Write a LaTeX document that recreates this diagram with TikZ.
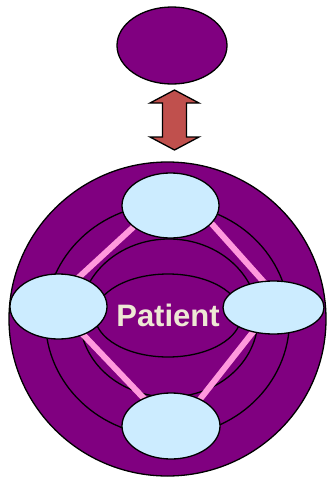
\documentclass[tikz,border=0pt]{standalone}
\usepackage{xcolor}
\usepackage{fontspec}
\setsansfont{Liberation Sans}
\usepackage{tikz}
\usetikzlibrary{shapes.geometric, positioning, arrows.meta}

\definecolor{discpurple}{HTML}{800080}
\definecolor{bubbleblue}{HTML}{CCECFF}
\definecolor{linkpink}{HTML}{FF99DD}
\definecolor{arrowred}{HTML}{C0504D}
\definecolor{textcream}{HTML}{EEE8D5}

\begin{document}
\begin{tikzpicture}[x=1pt, y=-1pt, >=Latex,
  ring/.style={draw, ellipse, line width=1.3pt, inner sep=0pt},
  disc/.style={ring, fill=discpurple},
  bubble/.style={ring, fill=bubbleblue, minimum width=97pt, minimum height=65pt},
  link/.style={draw=linkpink, line width=6pt}]
  \useasboundingbox (0,0) rectangle (327,477);

  % top part
  \node[disc, minimum width=110pt, minimum height=77pt] (family) at (172,45.5) {};
  \coordinate (exchange) at (174.5,120);
  \filldraw[fill=arrowred, line width=1.3pt, line join=miter]
    ([yshift=30pt]exchange) -- ++(24.5,13) -- ++(-12.5,0) -- ++(0,34) -- ++(12.5,0)
    -- ++(-24.5,13) -- ++(-24.5,-13) -- ++(12.5,0) -- ++(0,-34) -- ++(-12.5,0) -- cycle;

  % rings round the patient
  \node[disc, minimum width=317pt, minimum height=314pt] (outer) at (167.5,319) {};
  \node[ring, minimum width=244pt, minimum height=232pt] (midring) at (167.5,320) {};
  \node[ring, minimum width=178pt, minimum height=158pt] (innerring) at (169,318) {};
  \node[ring, minimum width=122pt, minimum height=83pt, text=textcream,
        font=\sffamily\bfseries\fontsize{31}{31}\selectfont] (patient) at (168,315.5) {Patient};

  % links between the bubbles
  \coordinate (ctop) at (178,186);
  \coordinate (cleft) at (52,302);
  \coordinate (cright) at (279,299);
  \coordinate (cbottom) at (175,431);
  \draw[link] (ctop) -- (cleft) -- (cbottom) -- (cright) -- cycle;

  \node[bubble] (btop) at (170.5,205.5) {};
  \node[bubble] (bleft) at (58.5,306.5) {};
  \node[bubble, minimum width=101pt, minimum height=53pt] (bright) at (273.5,307.5) {};
  \node[bubble, minimum width=98pt, minimum height=66pt] (bbottom) at (171,426) {};
\end{tikzpicture}
\end{document}
